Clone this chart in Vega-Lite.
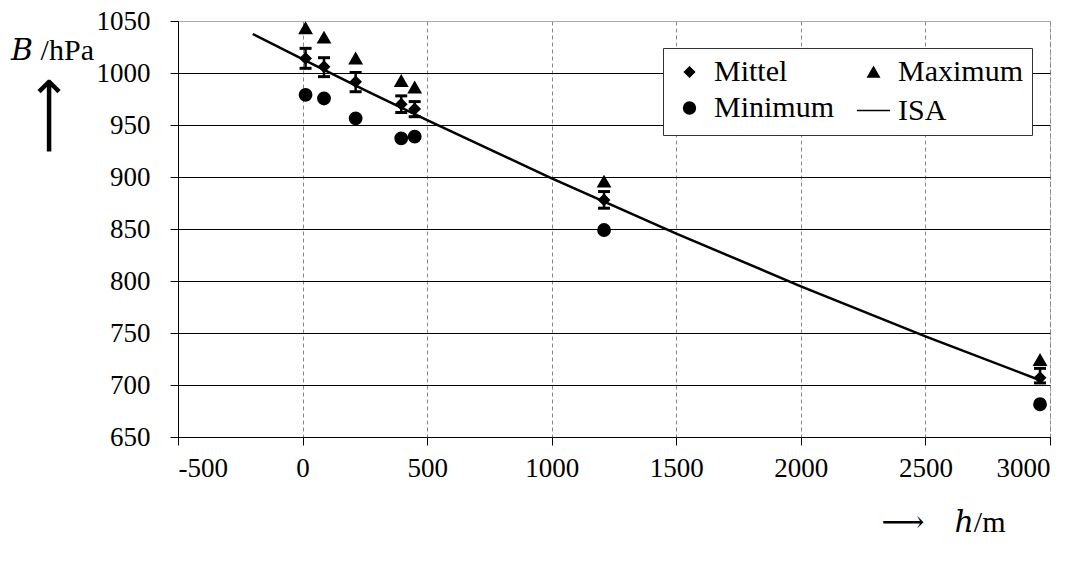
{
  "$schema": "https://vega.github.io/schema/vega-lite/v6.json",
  "width": 872,
  "height": 416,
  "autosize": "none",
  "padding": {"left": 178, "top": 21, "right": 29, "bottom": 125},
  "background": "white",
  "title": {"text": "⟶", "orient": "left", "anchor": "end", "frame": "group", "fontSize": 54, "fontWeight": "normal", "font": "DejaVu Sans", "color": "black", "offset": -60, "dx": -56, "dy": 6},
  "config": {
    "font": "Liberation Serif",
    "view": {"stroke": "#999", "strokeDash": [2, 2]},
    "axis": {
      "labelFont": "Liberation Serif", "labelFontSize": 27, "labelColor": "black",
      "titleFont": "Liberation Serif, DejaVu Serif", "titleFontWeight": "normal", "titleFontSize": 30, "titleColor": "black",
      "domainColor": "black", "tickColor": "black", "tickSize": 8, "tickWidth": 1, "domainWidth": 1
    }
  },
  "datasets": {
    "isa": [
      {"h": -200, "p": 1037.5},
      {"h": 0, "p": 1013.25},
      {"h": 250, "p": 983.6},
      {"h": 500, "p": 954.6},
      {"h": 1000, "p": 898.7},
      {"h": 1500, "p": 845.6},
      {"h": 2000, "p": 794.9},
      {"h": 2500, "p": 746.8},
      {"h": 2960, "p": 704.6}
    ],
    "err": [
      {"h": 12, "p": 1004.5, "p2": 1023.7},
      {"h": 86, "p": 996.5, "p2": 1014.7},
      {"h": 213, "p": 982, "p2": 1000.5},
      {"h": 396, "p": 962, "p2": 978},
      {"h": 450, "p": 958, "p2": 972.5},
      {"h": 1210, "p": 870, "p2": 886},
      {"h": 2960, "p": 702, "p2": 716}
    ],
    "pts": [
      {"h": 12, "p": 1014, "series": "Mittel"},
      {"h": 86, "p": 1006, "series": "Mittel"},
      {"h": 213, "p": 991.5, "series": "Mittel"},
      {"h": 396, "p": 970, "series": "Mittel"},
      {"h": 450, "p": 965.5, "series": "Mittel"},
      {"h": 1210, "p": 878, "series": "Mittel"},
      {"h": 2960, "p": 707, "series": "Mittel"},
      {"h": 12, "p": 1043, "series": "Maximum"},
      {"h": 86, "p": 1034, "series": "Maximum"},
      {"h": 213, "p": 1014, "series": "Maximum"},
      {"h": 396, "p": 992.3, "series": "Maximum"},
      {"h": 450, "p": 986, "series": "Maximum"},
      {"h": 1210, "p": 895.5, "series": "Maximum"},
      {"h": 2960, "p": 724, "series": "Maximum"},
      {"h": 12, "p": 979, "series": "Minimum"},
      {"h": 86, "p": 975.5, "series": "Minimum"},
      {"h": 213, "p": 956.4, "series": "Minimum"},
      {"h": 396, "p": 937.2, "series": "Minimum"},
      {"h": 450, "p": 938.8, "series": "Minimum"},
      {"h": 1210, "p": 849, "series": "Minimum"},
      {"h": 2960, "p": 681.5, "series": "Minimum"}
    ]
  },
  "encoding": {
    "x": {
      "field": "h", "type": "quantitative",
      "scale": {"domain": [-500, 3000], "nice": false, "zero": false},
      "axis": {
        "values": [-500, 0, 500, 1000, 1500, 2000, 2500, 3000],
        "labelExpr": "'' + datum.value",
        "grid": true, "gridColor": "#888", "gridDash": [4, 3], "gridWidth": 1,
        "labelPadding": 10,
        "title": "⟶\u2003ℎ/m",
        "titleX": 703, "titleY": 85, "titleAlign": "left", "titleBaseline": "middle", "titleAnchor": null
      }
    },
    "y": {
      "field": "p", "type": "quantitative",
      "scale": {"domain": [650, 1050], "nice": false, "zero": false},
      "axis": {
        "values": [650, 700, 750, 800, 850, 900, 950, 1000, 1050],
        "labelExpr": "'' + datum.value",
        "grid": true,
        "gridColor": {"condition": {"test": "datum.value === 1050", "value": "#aaa"}, "value": "black"},
        "gridWidth": 1,
        "labelPadding": 20,
        "title": "𝐵 /hPa",
        "titleAngle": 0, "titleX": -126, "titleY": 29, "titleAlign": "center", "titleBaseline": "middle"
      }
    }
  },
  "layer": [
    {
      "data": {"name": "isa"},
      "mark": {"type": "line", "color": "black", "strokeWidth": 2.5}
    },
    {
      "data": {"name": "err"},
      "mark": {"type": "errorbar", "color": "black", "opacity": 1, "thickness": 2.5, "ticks": {"size": 12, "thickness": 3, "color": "black", "opacity": 1}},
      "encoding": {"y2": {"field": "p2"}}
    },
    {
      "data": {"name": "pts"},
      "mark": {"type": "point", "filled": true, "fill": "black", "stroke": "black", "strokeWidth": 2, "opacity": 1},
      "encoding": {
        "shape": {
          "field": "series", "type": "nominal",
          "scale": {"domain": ["Mittel", "Minimum", "Maximum", "ISA"], "range": ["diamond", "circle", "triangle-up", "stroke"]},
          "legend": {
            "orient": "none", "legendX": 485, "legendY": 27, "columns": 2, "title": null,
            "labelFont": "Liberation Serif", "labelFontSize": 30, "labelColor": "black",
            "fillColor": "white", "strokeColor": "#333", "padding": 9, "rowPadding": 6, "columnPadding": 18,
            "labelOffset": 7, "symbolOpacity": 1
          }
        },
        "size": {
          "field": "series", "type": "nominal",
          "scale": {"type": "ordinal", "domain": ["Mittel", "Minimum", "Maximum", "ISA"], "range": [100, 140, 130, 1100]},
          "legend": {
            "orient": "none", "legendX": 485, "legendY": 27, "columns": 2, "title": null,
            "labelFont": "Liberation Serif", "labelFontSize": 30, "labelColor": "black",
            "fillColor": "white", "strokeColor": "#333", "padding": 9, "rowPadding": 6, "columnPadding": 18,
            "labelOffset": 7, "symbolOpacity": 1
          }
        }
      }
    }
  ]
}
